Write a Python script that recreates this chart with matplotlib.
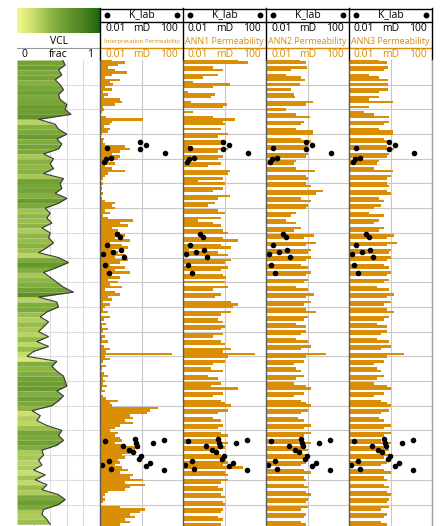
import matplotlib
matplotlib.use('Agg')
import matplotlib.pyplot as plt
from matplotlib.colors import LinearSegmentedColormap
import numpy as np

plt.rcParams['font.family'] = ['Open Sans', 'DejaVu Sans']

# ---- data ----
# VCL (fraction), every 2 depth units
vcl = [0.55, 0.58, 0.5, 0.54, 0.46, 0.52, 0.56, 0.5, 0.52, 0.6,
       0.58, 0.65, 0.26, 0.46, 0.5, 0.6, 0.48, 0.54, 0.5, 0.32,
       0.44, 0.4, 0.44, 0.32, 0.56, 0.52, 0.54, 0.46, 0.6, 0.5,
       0.34, 0.4, 0.36, 0.42, 0.3, 0.4, 0.38, 0.44, 0.36, 0.26,
       0.5, 0.62, 0.48, 0.32, 0.4, 0.48, 0.56, 0.68, 0.26, 0.48,
       0.5, 0.36, 0.28, 0.38, 0.32, 0.26, 0.38, 0.24, 0.38, 0.2,
       0.12, 0.48, 0.42, 0.48, 0.56, 0.58, 0.6, 0.48, 0.56, 0.5,
       0.42, 0.18, 0.28, 0.24, 0.36, 0.54, 0.5, 0.56, 0.48, 0.3,
       0.32, 0.26, 0.3, 0.2, 0.34, 0.22, 0.36, 0.3, 0.5, 0.58,
       0.5, 0.32, 0.3, 0.36, 0.4]

# permeability curves (mD), every depth unit (values below 0.01 fall off the track)
k_interp = [0.038, 0.16, 0.074, 0.024, 0.053, 0.2, 0.038, 0.017, 0.09, 0.03,
            0.042, 0.017, 0.038, 0.014, 0.024, 0.016, 0.09, 0.115, 0.053, 0.014,
            0.016, 0.012, 0.005, 0.019, 1.2, 0.038, 0.03, 0.016, 0.03, 0.024,
            0.012, 0.005, 0.016, 0.014, 0.017, 0.16, 0.28, 0.09, 0.038, 0.09,
            0.074, 0.024, 0.053, 0.017, 0.038, 0.16, 0.024, 0.017, 0.014, 0.005,
            0.014, 0.005, 0.012, 0.005, 0.014, 0.005, 0.012, 0.017, 0.053, 0.038,
            0.053, 0.017, 0.03, 0.014, 0.024, 0.39, 0.09, 0.22, 0.038, 0.074,
            0.09, 0.16, 0.053, 0.28, 0.03, 0.115, 0.22, 0.038, 0.074, 0.16,
            0.053, 0.22, 0.09, 0.03, 0.16, 0.053, 0.28, 0.038, 0.09, 0.024,
            0.074, 0.03, 0.115, 0.017, 0.053, 0.09, 0.024, 0.038, 0.014, 0.03,
            0.017, 0.014, 0.024, 0.005, 0.03, 0.016, 0.005, 0.019, 0.012, 0.024,
            0.014, 0.005, 0.017, 0.012, 0.024, 0.005, 0.016, 0.03, 0.019, 30,
            0.017, 0.03, 0.014, 0.005, 0.019, 0.012, 0.005, 0.016, 0.024, 0.014,
            0.017, 0.014, 0.022, 0.012, 0.017, 0.005, 0.014, 0.019, 0.074, 0.03,
            0.038, 6.2, 2.6, 1.8, 0.28, 0.39, 0.16, 0.39, 0.09, 0.053,
            0.03, 0.074, 0.053, 0.09, 0.115, 0.053, 0.16, 0.85, 0.48, 0.28,
            0.115, 0.16, 0.074, 0.09, 0.053, 0.115, 0.22, 0.09, 0.39, 0.28,
            1.2, 0.16, 1.5, 0.28, 0.16, 0.024, 0.017, 0.014, 0.017, 0.014,
            0.005, 0.09, 1.5, 0.85, 0.28, 0.48, 0.16, 0.28, 0.09, 0.053]

k_ann1 = [4.5, 14, 0.005, 0.28, 0.85, 0.005, 0.48, 0.09, 0.005, 0.03,
          1.85, 0.28, 0.005, 0.017, 0.35, 0.22, 0.005, 0.024, 1.3, 0.85,
          0.005, 0.03, 0.005, 0.28, 3.2, 0.85, 1.05, 0.005, 0.68, 0.005,
          1.5, 0.48, 0.005, 1.05, 0.85, 0.02, 1.5, 0.48, 0.005, 0.85,
          0.48, 0.005, 0.68, 0.16, 0.005, 1.85, 1.5, 0.005, 0.85, 0.05,
          1.05, 0.005, 0.85, 0.28, 0.005, 1.85, 0.48, 0.005, 0.35, 0.16,
          0.005, 0.48, 1.05, 0.005, 0.68, 0.05, 0.28, 0.68, 0.005, 0.85,
          1.5, 0.005, 0.85, 4.5, 0.005, 0.68, 2.1, 0.02, 0.48, 1.5,
          0.005, 2.1, 1.05, 0.005, 1.5, 0.68, 0.005, 0.85, 1.2, 0.005,
          1.05, 0.005, 1.5, 0.28, 0.005, 0.68, 0.35, 0.005, 2.1, 4.5,
          2.6, 0.005, 2.1, 0.68, 0.005, 0.48, 0.85, 0.005, 1.05, 0.68,
          0.005, 0.85, 0.28, 0.005, 0.68, 1.05, 0.005, 2.1, 0.85, 30,
          1.5, 0.005, 1.05, 0.28, 0.005, 0.22, 0.85, 0.005, 0.16, 0.48,
          0.005, 0.68, 0.22, 4.5, 0.005, 0.85, 0.28, 0.005, 0.68, 1.05,
          2.1, 0.005, 1.5, 0.48, 0.005, 0.28, 0.68, 0.005, 0.85, 0.48,
          0.005, 0.68, 1.5, 0.005, 0.48, 1.5, 0.005, 1.05, 0.48, 0.005,
          0.68, 1.05, 0.005, 1.5, 0.85, 7.8, 0.005, 1.05, 1.5, 0.005,
          1.5, 0.68, 0.005, 0.48, 0.85, 0.005, 0.68, 1.05, 0.005, 0.85,
          1.05, 0.005, 0.85, 0.68, 0.005, 0.48, 0.85, 0.005, 0.68, 0.48]

k_ann2 = [0.43, 0.85, 0.005, 0.95, 0.16, 0.005, 0.09, 0.48, 0.76, 0.005,
          0.43, 0.005, 0.16, 0.005, 0.22, 0.25, 0.005, 1.85, 0.85, 0.005,
          0.09, 0.005, 0.28, 1.3, 0.005, 0.68, 0.48, 0.005, 0.28, 1.85,
          1.85, 0.005, 0.48, 1.5, 0.005, 1.05, 0.85, 0.005, 1.05, 0.85,
          0.005, 0.28, 0.22, 0.005, 0.28, 2.3, 0.005, 0.85, 1.05, 0.005,
          0.85, 1.5, 0.005, 5.6, 2.6, 0.005, 0.48, 1.5, 0.005, 1.05,
          0.85, 0.005, 0.28, 0.16, 0.005, 0.09, 0.28, 0.005, 0.48, 0.22,
          0.005, 2.1, 0.68, 0.005, 2.6, 0.85, 0.005, 1.5, 1.05, 0.005,
          1.5, 0.85, 0.005, 0.48, 1.05, 0.005, 1.5, 0.85, 0.005, 1.05,
          0.68, 0.005, 0.28, 1.05, 0.005, 2.1, 0.85, 0.005, 1.5, 0.68,
          0.005, 0.85, 2.6, 0.005, 1.05, 0.68, 0.005, 0.28, 0.85, 0.005,
          0.85, 0.48, 0.005, 0.28, 1.05, 0.005, 1.5, 0.48, 0.005, 7.8,
          0.85, 0.005, 0.68, 0.22, 0.005, 0.28, 0.48, 0.005, 0.68, 0.28,
          0.005, 0.22, 0.85, 1.5, 0.005, 0.68, 0.22, 0.005, 0.48, 0.85,
          1.5, 0.005, 1.05, 0.48, 0.005, 0.35, 0.68, 0.005, 1.5, 0.68,
          0.005, 1.5, 0.68, 0.005, 0.48, 1.5, 0.005, 0.68, 1.05, 0.005,
          1.05, 0.68, 0.005, 0.85, 0.48, 0.005, 0.68, 1.5, 0.005, 0.68,
          0.85, 0.005, 0.68, 1.05, 0.005, 0.85, 1.5, 0.005, 1.05, 0.85,
          0.005, 1.05, 0.48, 0.005, 0.85, 0.68, 0.005, 0.48, 0.85, 0.005]

k_ann3 = [0.28, 0.68, 0.005, 0.76, 0.48, 0.005, 0.09, 0.28, 0.76, 0.005,
          0.76, 0.005, 0.76, 0.28, 0.005, 0.28, 0.09, 1.3, 0.005, 0.09,
          0.005, 0.053, 0.16, 0.85, 0.005, 0.85, 0.48, 0.005, 0.28, 1.3,
          1.3, 0.005, 0.48, 1.05, 0.005, 0.68, 1.5, 0.005, 0.85, 0.68,
          0.005, 0.28, 0.22, 0.005, 0.16, 1.3, 0.005, 1.05, 0.68, 0.005,
          0.68, 0.85, 0.005, 0.68, 1.05, 0.005, 0.28, 0.48, 0.005, 0.35,
          0.16, 0.005, 0.09, 0.48, 0.005, 0.28, 0.16, 0.005, 0.48, 0.28,
          0.005, 1.5, 0.68, 0.005, 2.1, 0.68, 0.005, 1.05, 0.85, 0.005,
          1.05, 0.68, 0.005, 0.48, 0.85, 0.005, 1.05, 0.68, 0.005, 0.85,
          0.48, 0.005, 0.22, 0.85, 0.005, 1.5, 0.68, 0.005, 1.05, 0.48,
          0.005, 0.68, 1.5, 0.005, 0.85, 0.48, 0.005, 0.22, 0.68, 0.005,
          0.68, 0.35, 0.005, 0.22, 0.85, 0.005, 1.05, 0.35, 0.005, 4.5,
          0.68, 0.005, 0.48, 0.16, 0.005, 0.22, 0.35, 0.005, 0.48, 0.22,
          0.005, 0.16, 0.68, 1.05, 0.005, 0.48, 0.16, 0.005, 0.35, 0.68,
          1.05, 0.005, 0.85, 0.35, 0.005, 0.28, 0.48, 0.005, 1.05, 0.48,
          0.005, 1.05, 0.48, 0.005, 0.35, 1.05, 0.005, 0.48, 0.85, 0.005,
          0.85, 0.48, 0.005, 0.68, 0.35, 0.005, 0.48, 1.05, 0.005, 0.48,
          0.68, 0.005, 0.48, 0.85, 0.005, 0.68, 1.05, 0.005, 0.85, 0.68,
          0.005, 0.85, 0.35, 0.005, 0.68, 0.48, 0.005, 0.35, 0.68, 0.005]

# core K_lab points
klab_depth = [33.4, 34.4, 35.5, 36.0, 37.7, 39.6, 40.2, 41.4,
              70.4, 71.5, 74.9, 76.9, 77.7, 78.5, 79.8, 83.0, 86.2,
              153.3, 153.8, 154.4, 155.2, 155.2, 156.2, 156.4, 157.8, 158.7,
              160.2, 161.4, 162.5, 163.2, 163.8, 164.6, 165.7, 166.1]
klab = [0.87, 1.7, 0.022, 0.85, 14, 0.033, 0.02, 0.015,
        0.066, 0.09, 0.022, 0.1, 0.042, 0.014, 0.14, 0.017, 0.026,
        0.47, 12, 0.018, 0.54, 3.7, 0.63, 0.13, 0.26, 0.38,
        0.91, 0.73, 0.028, 2.5, 0.012, 1.6, 0.033, 12]

titles = ['Interpretation Permeability', 'ANN1 Permeability',
          'ANN2 Permeability', 'ANN3 Permeability']
perm = [k_interp, k_ann1, k_ann2, k_ann3]

depth = np.arange(len(k_interp))
vcl_depth = np.arange(0, 2 * len(vcl), 2)
dmax = 188.7

ORANGE = '#D98E06'
vcl_cmap = LinearSegmentedColormap.from_list(
    'vcl', ['#F4F78C', '#C8DE6C', '#90B848', '#6A9A30', '#4C8222', '#1A650E'])

W, H = 440, 526
fig = plt.figure(figsize=(W / 100, H / 100), dpi=100)


def box(x0, y0, x1, y1):
    return [x0 / W, 1 - y1 / H, (x1 - x0) / W, (y1 - y0) / H]


edges = [17, 100, 183, 266, 349, 432]
top = 60

# VCL track
ax = fig.add_axes(box(edges[0], top, edges[1], H))
for i in range(len(vcl) - 1):
    ax.fill_betweenx(vcl_depth[i:i + 2], 0, vcl[i:i + 2],
                     color=vcl_cmap(vcl[i]), lw=0)
ax.plot(vcl, vcl_depth, color='#3a3a3a', lw=0.8)
ax.set_xlim(0, 1)
ax.set_ylim(dmax, 0)
ax.set_xticks([0.2, 0.4, 0.6, 0.8])
ax.set_yticks(np.arange(10, 190, 10))
ax.grid(True, color='#DDDDDD', lw=0.8)
ax.set_axisbelow(True)
ax.tick_params(length=0, labelleft=False, labelbottom=False)
for s in ax.spines.values():
    s.set_visible(False)

# permeability tracks
for j, k in enumerate(perm):
    ax = fig.add_axes(box(edges[j + 1], top, edges[j + 2], H))
    ax.set_xscale('log')
    ax.set_xlim(0.01, 100)
    ax.set_ylim(dmax, 0)
    ax.set_yticks(np.arange(10, 190, 10))
    ax.grid(True, which='major', color='#C8C8C8', lw=0.8)
    ax.grid(True, which='minor', axis='x', color='#ECECEC', lw=0.6)
    ax.set_axisbelow(True)
    ax.fill_betweenx(depth, 0.001, k, step='mid', color=ORANGE, lw=0)
    ax.scatter(klab, klab_depth, s=9, color='black', zorder=5)
    ax.tick_params(which='both', length=0, labelleft=False, labelbottom=False)
    for s in ax.spines.values():
        s.set_visible(False)

# header and track frames
ov = fig.add_axes([0, 0, 1, 1], zorder=10)
ov.set_xlim(0, W)
ov.set_ylim(H, 0)
ov.axis('off')
ov.patch.set_alpha(0)

grad = np.linspace(0, 1, 256)[None, :]
ov.imshow(grad, extent=(edges[0], edges[1], 33, 8), cmap=vcl_cmap, aspect='auto')
ov.set_xlim(0, W)
ov.set_ylim(H, 0)
mid = (edges[0] + edges[1]) / 2
ov.text(mid, 41.5, 'VCL', ha='center', va='center', fontsize=7.5)
ov.plot([edges[0], edges[1]], [48, 48], color='#999999', lw=0.8)
ov.text(edges[0] + 4, 54.5, '0', ha='left', va='center', fontsize=7.5)
ov.text(mid, 54.5, 'frac', ha='center', va='center', fontsize=7.5)
ov.text(edges[1] - 7, 54.5, '1', ha='right', va='center', fontsize=7.5)

ov.plot([edges[1], edges[5]], [8.5, 8.5], color='black', lw=1)
ov.plot([edges[1], edges[5]], [21.5, 21.5], color='black', lw=1)
for j, t in enumerate(titles):
    x0, x1 = edges[j + 1], edges[j + 2]
    xm = (x0 + x1) / 2
    ov.plot([x0 + 6.5, x1 - 6.5], [15, 15], 'o', color='black', ms=3.2)
    ov.text(xm, 14.5, 'K_lab', ha='center', va='center', fontsize=7.5)
    ov.text(x0 + 5, 28.5, '0.01', ha='left', va='center', fontsize=7.5)
    ov.text(xm, 28.5, 'mD', ha='center', va='center', fontsize=7.5)
    ov.text(x1 - 5, 28.5, '100', ha='right', va='center', fontsize=7.5)
    fs = 4.3 if j == 0 else 6.4
    ov.text(xm, 41.5, t, ha='center', va='center', fontsize=fs, color=ORANGE)
    ov.plot([x0, x1], [47.8, 47.8], color=ORANGE, lw=1)
    ov.text(x0 + 5, 54.5, '0.01', ha='left', va='center', fontsize=7.5, color=ORANGE)
    ov.text(xm, 54.5, 'mD', ha='center', va='center', fontsize=7.5, color=ORANGE)
    ov.text(x1 - 5, 54.5, '100', ha='right', va='center', fontsize=7.5, color=ORANGE)

for x in edges[1:]:
    ov.plot([x, x], [8, top], color='black', lw=1)
for x in edges[1:5]:
    ov.plot([x, x], [top, H], color='#5a5a5a', lw=1)
ov.plot([edges[5], edges[5]], [top, H], color='#A0A0A0', lw=1)

fig.savefig('out.png', dpi=100)
